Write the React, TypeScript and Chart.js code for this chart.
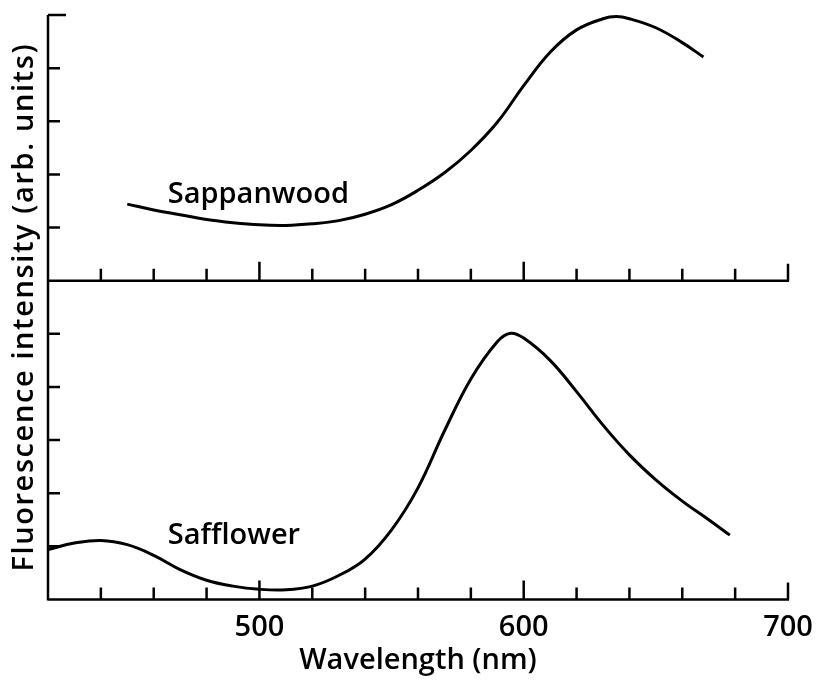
import React, { useEffect, useRef } from 'react';
import { Chart, registerables } from 'chart.js';

Chart.register(...registerables);

// ---- data ----
const sappanWavelengths = [450, 460, 470, 480, 490, 500, 510, 520, 530, 540, 550, 560, 570, 580, 590, 600, 610, 620, 630, 635, 640, 650, 660, 668];
const sappanValues = [1.44, 1.33, 1.24, 1.15, 1.09, 1.05, 1.04, 1.07, 1.13, 1.25, 1.43, 1.7, 2.03, 2.45, 2.98, 3.67, 4.3, 4.72, 4.93, 4.97, 4.93, 4.76, 4.48, 4.21];

const safflowerWavelengths = [420, 430, 440, 450, 460, 470, 480, 490, 500, 510, 520, 530, 540, 550, 560, 570, 580, 590, 595, 600, 610, 620, 630, 640, 650, 660, 670, 678];
const safflowerValues = [0.94, 1.06, 1.11, 1.03, 0.83, 0.56, 0.36, 0.25, 0.19, 0.18, 0.25, 0.45, 0.76, 1.31, 2.1, 3.17, 4.15, 4.85, 5.01, 4.92, 4.5, 3.91, 3.28, 2.72, 2.25, 1.85, 1.5, 1.21];

const xMin = 420;
const xMax = 700;
const xStep = 20;
const xTickLabels = ['500', '600', '700'];
const topPanelMax = 5;
const bottomPanelMax = 6;
const curveNames = ['Sappanwood', 'Safflower'];
const xTitle = 'Wavelength (nm)';
const yTitle = 'Fluorescence intensity (arb. units)';

const FONT = '"Open Sans", "DejaVu Sans", sans-serif';
const FONT_SIZE = 29;
const FONT_WEIGHT = 600;

const paperAxesPlugin = {
  id: 'paperAxes',
  afterDraw(chart: any) {
    const { ctx, chartArea, scales } = chart;
    const x = scales.x;
    const yTop = scales.yTop;
    const yBot = scales.yBot;
    const left = chartArea.left;
    const right = x.getPixelForValue(xMax);
    const topY = yTop.getPixelForValue(topPanelMax);
    const midY = yTop.getPixelForValue(0);
    const botY = yBot.getPixelForValue(0);

    ctx.save();
    ctx.strokeStyle = '#000';
    ctx.lineWidth = 2.5;
    ctx.lineCap = 'butt';
    ctx.beginPath();
    // left axis
    ctx.moveTo(left, topY);
    ctx.lineTo(left, botY + 1);
    // the two horizontal axes with upward ticks
    for (const yy of [midY, botY]) {
      ctx.moveTo(left, yy);
      ctx.lineTo(right + 1, yy);
      x.ticks.forEach((t: any) => {
        if (t.value === xMin) return;
        const px = x.getPixelForValue(t.value);
        const major = t.value % 100 === 0;
        const len = major ? (t.value === xMax ? 17 : 19) : 12;
        ctx.moveTo(px, yy);
        ctx.lineTo(px, yy - len);
      });
    }
    // inward y ticks
    yTop.ticks.forEach((t: any) => {
      if (t.value === 0) return;
      const py = yTop.getPixelForValue(t.value);
      const len = t.value === topPanelMax ? 18 : 12;
      ctx.moveTo(left, py);
      ctx.lineTo(left + len, py);
    });
    yBot.ticks.forEach((t: any) => {
      if (t.value === 0 || t.value === bottomPanelMax) return;
      const py = yBot.getPixelForValue(t.value);
      ctx.moveTo(left, py);
      ctx.lineTo(left + 12, py);
    });
    ctx.stroke();

    // curve labels
    ctx.fillStyle = '#000';
    ctx.font = `${FONT_WEIGHT} ${FONT_SIZE}px ${FONT}`;
    ctx.textAlign = 'left';
    ctx.textBaseline = 'alphabetic';
    ctx.fillText(curveNames[0], x.getPixelForValue(465.3), yTop.getPixelForValue(1.47));
    ctx.fillText(curveNames[1], x.getPixelForValue(465.3), yBot.getPixelForValue(1.04));

    // y axis title
    ctx.save();
    ctx.translate(33, (topY + botY) / 2);
    ctx.rotate(-Math.PI / 2);
    ctx.textAlign = 'center';
    (ctx as any).letterSpacing = '1.6px';
    ctx.fillText(yTitle, 0, 0);
    ctx.restore();

    ctx.restore();
  },
};

export default function App() {
  const canvasRef = useRef<HTMLCanvasElement | null>(null);

  useEffect(() => {
    const canvas = canvasRef.current;
    if (!canvas) return;
    const chart = new Chart(canvas, {
      type: 'line',
      data: {
        datasets: [
          {
            label: curveNames[0],
            data: sappanWavelengths.map((w, i) => ({ x: w, y: sappanValues[i] })),
            yAxisID: 'yTop',
            borderColor: '#000',
            borderWidth: 3,
            pointRadius: 0,
            fill: false,
            tension: 0.4,
          },
          {
            label: curveNames[1],
            data: safflowerWavelengths.map((w, i) => ({ x: w, y: safflowerValues[i] })),
            yAxisID: 'yBot',
            borderColor: '#000',
            borderWidth: 3,
            pointRadius: 0,
            fill: false,
            tension: 0.4,
          },
        ],
      },
      options: {
        animation: false,
        responsive: false,
        layout: { padding: { left: 48, top: 15, right: 28, bottom: 3 } },
        plugins: {
          legend: { display: false },
          tooltip: { enabled: false },
        },
        scales: {
          x: {
            type: 'linear',
            position: 'bottom',
            min: xMin,
            max: xMax,
            border: { display: false },
            grid: { display: false, drawTicks: false },
            ticks: {
              stepSize: xStep,
              autoSkip: false,
              maxRotation: 0,
              padding: 11,
              color: '#000',
              font: { family: FONT, size: FONT_SIZE, weight: FONT_WEIGHT },
              callback: (v: any) => {
                const s = String(v);
                return xTickLabels.includes(s) ? s : '';
              },
            },
            title: {
              display: true,
              text: xTitle,
              color: '#000',
              font: { family: FONT, size: FONT_SIZE, weight: FONT_WEIGHT },
              padding: { top: -13, bottom: 0 },
            },
            afterFit: (scale: any) => {
              scale.paddingLeft = 0;
              scale.paddingRight = 0;
            },
          },
          yTop: {
            type: 'linear',
            position: 'right',
            stack: 'panels',
            stackWeight: topPanelMax,
            min: 0,
            max: topPanelMax,
            display: false,
            ticks: { stepSize: 1 },
          },
          yBot: {
            type: 'linear',
            position: 'right',
            stack: 'panels',
            stackWeight: bottomPanelMax,
            min: 0,
            max: bottomPanelMax,
            display: false,
            ticks: { stepSize: 1 },
          },
        },
      },
      plugins: [paperAxesPlugin],
    } as any);
    return () => chart.destroy();
  }, []);

  return (
    <div style={{ position: 'fixed', left: 0, top: 0, width: 816, height: 681, background: '#fff' }}>
      <canvas ref={canvasRef} width={816} height={681} style={{ display: 'block' }} />
    </div>
  );
}
